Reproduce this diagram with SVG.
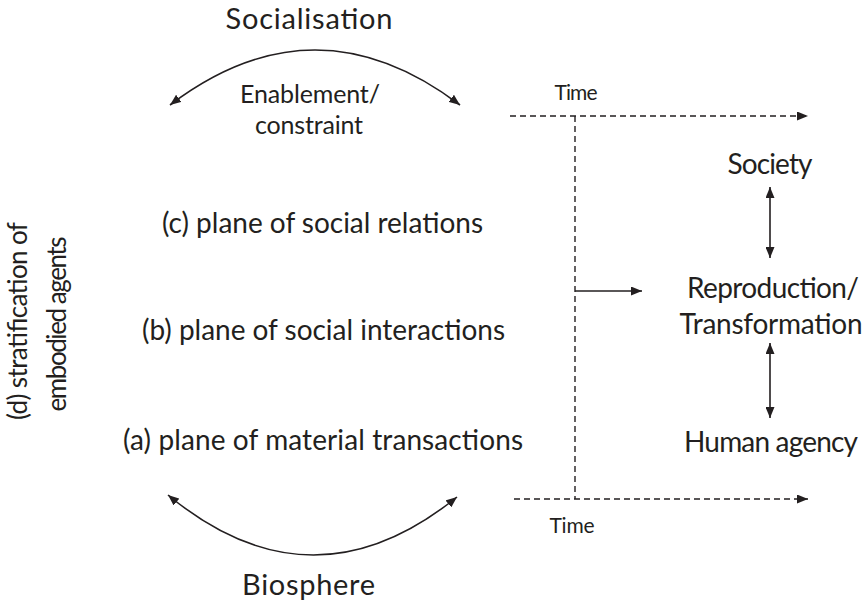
<svg xmlns="http://www.w3.org/2000/svg" width="867" height="605" viewBox="0 0 867 605">
<style>
text{font-family:Lato,"Open Sans","Liberation Sans",sans-serif;fill:#231f20;text-anchor:middle}
.big{font-size:29px}
.mid{font-size:28px}
.side{font-size:26px}
.sm{font-size:25px}
.xs{font-size:21px}
.ln{fill:none;stroke:#231f20;stroke-width:1.6}
.dash{fill:none;stroke:#231f20;stroke-width:1.4;stroke-dasharray:6 4}
</style>
<defs>
<marker id="ah" viewBox="0 0 11 9" refX="11" refY="4.5" markerWidth="11" markerHeight="9" markerUnits="userSpaceOnUse" orient="auto-start-reverse">
<path d="M0,0 L11,4.5 L0,9 Z" fill="#231f20"/>
</marker>
</defs>
<g id="socialisation"><text class="big" x="309" y="29" textLength="167">Socialisation</text></g>
<g id="enablement"><text class="sm" x="310" y="103" textLength="140">Enablement/</text><text class="sm" x="309" y="134" textLength="108">constraint</text></g>
<g id="biosphere"><text class="big" x="308.5" y="595" textLength="133">Biosphere</text></g>
<g id="stratification"><text class="side" transform="translate(27,321) rotate(-90)" textLength="198">(d) stratification of</text><text class="side" transform="translate(66,324) rotate(-90)" textLength="175">embodied agents</text></g>
<g id="plane-c"><text class="mid" x="322.5" y="233" textLength="321">(c) plane of social relations</text></g>
<g id="plane-b"><text class="mid" x="323.5" y="340" textLength="363">(b) plane of social interactions</text></g>
<g id="plane-a"><text class="mid" x="323" y="450" textLength="400">(a) plane of material transactions</text></g>
<g id="time-top"><text class="xs" x="576" y="100" textLength="43">Time</text></g>
<g id="time-bottom"><text class="xs" x="572" y="533" textLength="45">Time</text></g>
<g id="society"><text class="mid" x="770" y="174" textLength="85">Society</text></g>
<g id="reproduction"><text class="mid" x="773" y="298" textLength="172">Reproduction/</text><text class="mid" x="771" y="334" textLength="183">Transformation</text></g>
<g id="human-agency"><text class="mid" x="771" y="452" textLength="174">Human agency</text></g>
<g id="connectors">
<path class="ln" d="M170,105 Q315,-5 460,105" marker-start="url(#ah)" marker-end="url(#ah)"/>
<path class="ln" d="M168,495 Q312,614 457,497" marker-start="url(#ah)" marker-end="url(#ah)"/>
<path class="dash" d="M510,116 H808" marker-end="url(#ah)"/>
<path class="dash" d="M514,499 H808" marker-end="url(#ah)"/>
<path class="dash" d="M575,116 V499"/>
<path class="ln" d="M575,291 H642" marker-end="url(#ah)"/>
<path class="ln" d="M770,187 V258" marker-start="url(#ah)" marker-end="url(#ah)"/>
<path class="ln" d="M770,343 V418" marker-start="url(#ah)" marker-end="url(#ah)"/>
</g>
</svg>
